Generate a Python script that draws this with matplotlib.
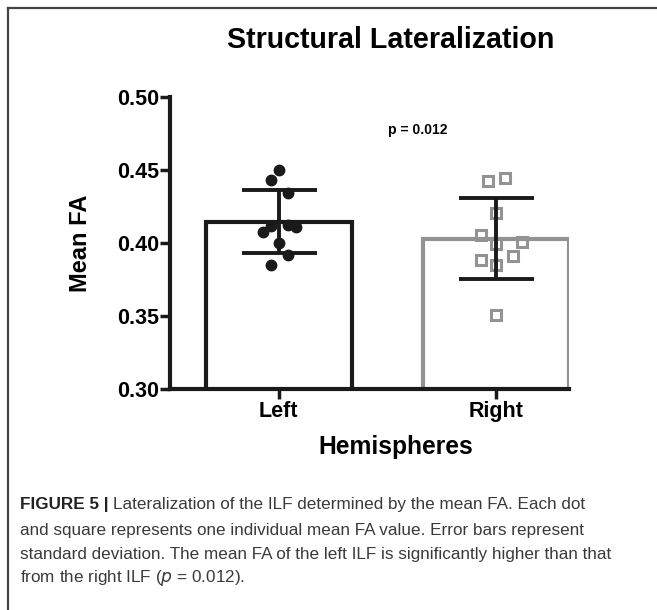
import matplotlib.pyplot as plt
from matplotlib.lines import Line2D

# data
groups = ['Left', 'Right']
bar_means = [0.4145, 0.403]
bar_sd = [0.0215, 0.028]

left_fa = [0.450, 0.443, 0.434, 0.4116, 0.4123, 0.4107, 0.4077, 0.4002, 0.3916, 0.385]
right_fa = [0.4425, 0.4445, 0.4205, 0.4055, 0.3993, 0.4007, 0.3884, 0.3911, 0.3849, 0.3507]

# horizontal spread of the points (fraction of bar spacing)
left_dx = [0.0, -0.037, 0.041, -0.037, 0.041, 0.078, -0.074, 0.0, 0.041, -0.037]
right_dx = [-0.037, 0.041, 0.0, -0.069, 0.0, 0.12, -0.069, 0.078, 0.0, 0.0]

p_text = 'p = 0.012'

plt.rcParams['font.family'] = ['Liberation Sans', 'DejaVu Sans']

fig = plt.figure(figsize=(6.57, 6.10), dpi=100)
ax = fig.add_axes([0.2588, 0.3623, 0.6072, 0.4787])

dark = '#1a1a1a'
grey = '#939393'

x = [0, 1]
ax.bar(x[0], bar_means[0], width=0.67, bottom=0, color='white',
       edgecolor=dark, linewidth=3.0, zorder=1)
ax.bar(x[1], bar_means[1], width=0.67, bottom=0, color='white',
       edgecolor=grey, linewidth=3.0, zorder=1)

ax.plot([x[0] + d for d in left_dx], left_fa, 'o', color=dark,
        markersize=7.5, zorder=3)
ax.plot([x[1] + d for d in right_dx], right_fa, 's', color=grey,
        markerfacecolor='none', markeredgewidth=2.2, markersize=7.5, zorder=3)

ax.errorbar(x, bar_means, yerr=bar_sd, fmt='none', ecolor=dark,
            elinewidth=2.8, capsize=27, capthick=2.8, zorder=4)

ax.set_ylim(0.30, 0.50)
ax.set_xlim(-0.5, 1.335)
ax.set_yticks([0.30, 0.35, 0.40, 0.45, 0.50])
ax.set_yticklabels(['0.30', '0.35', '0.40', '0.45', '0.50'])
ax.set_xticks(x)
ax.set_xticklabels(groups)

for s in ['top', 'right']:
    ax.spines[s].set_visible(False)
for s in ['left', 'bottom']:
    ax.spines[s].set_linewidth(3)
    ax.spines[s].set_color(dark)
ax.tick_params(width=2.5, length=7, color=dark, labelsize=15.5, pad=1)
ax.tick_params(axis='x', pad=2)
for lab in ax.get_xticklabels() + ax.get_yticklabels():
    lab.set_fontweight('bold')

ax.set_ylabel('Mean FA', fontsize=17, fontweight='bold', labelpad=18)
ax.set_xlabel('Hemispheres', fontsize=17.7, fontweight='bold', labelpad=9, x=0.566)
ax.text(0.64, 0.4774, p_text, fontsize=10, fontweight='bold', ha='center', va='center')

fig.text(0.595, 0.934, 'Structural Lateralization', fontsize=20.6, fontweight='bold',
         ha='center', va='center')

# frame lines
fig.add_artist(Line2D([8 / 657, 8 / 657], [0, 1 - 8 / 610], color='#444444', lw=1.6))
fig.add_artist(Line2D([8 / 657, 1], [1 - 8 / 610, 1 - 8 / 610], color='#444444', lw=1.6))

# caption
cap_lines = [
    'Lateralization of the ILF determined by the mean FA. Each dot',
    'and square represents one individual mean FA value. Error bars represent',
    'standard deviation. The mean FA of the left ILF is significantly higher than that',
]
ys = [1 - 505 / 610, 1 - 530 / 610, 1 - 554 / 610, 1 - 578 / 610]
cap_size = 12.3
t = fig.text(20 / 657, ys[0], 'FIGURE 5 | ', fontsize=cap_size, fontweight='bold',
             color='#222222', va='center')
fig.canvas.draw()
bb = t.get_window_extent()
fig.text(bb.x1 / 657, ys[0], cap_lines[0], fontsize=cap_size, color='#3a3a3a', va='center')
fig.text(20 / 657, ys[1], cap_lines[1], fontsize=cap_size, color='#3a3a3a', va='center')
fig.text(20 / 657, ys[2], cap_lines[2], fontsize=cap_size, color='#3a3a3a', va='center')
fig.text(20 / 657, ys[3], r'from the right ILF ($\it{p}$ = 0.012).', fontsize=cap_size,
         color='#3a3a3a', va='center')

fig.savefig('out.png', dpi=100)
